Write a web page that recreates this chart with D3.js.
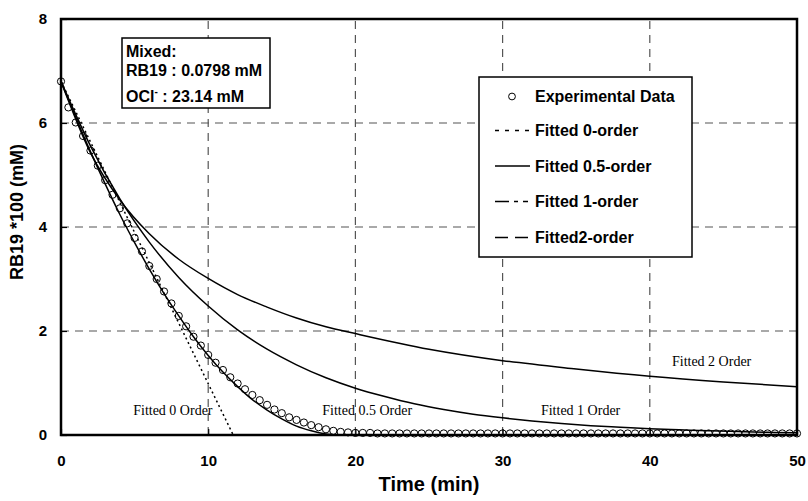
<!DOCTYPE html>
<html>
<head>
<meta charset="utf-8">
<style>
  body { margin: 0; background: #fff; }
  text { font-family: "Liberation Sans", Arial, sans-serif; }
</style>
</head>
<body>
<svg width="808" height="501"></svg>
<script src="https://cdn.jsdelivr.net/npm/d3@7"></script>
<script>

// Experimental data (every 0.5 min)
var expTime = [
  0, 0.5, 1, 1.5, 2, 2.5, 3, 3.5, 4, 4.5,
  5, 5.5, 6, 6.5, 7, 7.5, 8, 8.5, 9, 9.5,
  10, 10.5, 11, 11.5, 12, 12.5, 13, 13.5, 14, 14.5,
  15, 15.5, 16, 16.5, 17, 17.5, 18, 18.5, 19, 19.5,
  20, 20.5, 21, 21.5, 22, 22.5, 23, 23.5, 24, 24.5,
  25, 25.5, 26, 26.5, 27, 27.5, 28, 28.5, 29, 29.5,
  30, 30.5, 31, 31.5, 32, 32.5, 33, 33.5, 34, 34.5,
  35, 35.5, 36, 36.5, 37, 37.5, 38, 38.5, 39, 39.5,
  40, 40.5, 41, 41.5, 42, 42.5, 43, 43.5, 44, 44.5,
  45, 45.5, 46, 46.5, 47, 47.5, 48, 48.5, 49, 49.5,
  50
];
var expConc = [
  6.80, 6.30, 6.01, 5.75, 5.47, 5.18, 4.90, 4.62, 4.36, 4.07,
  3.79, 3.53, 3.25, 3.00, 2.76, 2.53, 2.29, 2.09, 1.89, 1.72,
  1.54, 1.39, 1.25, 1.11, 0.99, 0.88, 0.77, 0.67, 0.58, 0.49,
  0.42, 0.34, 0.29, 0.24, 0.19, 0.15, 0.11, 0.08, 0.06, 0.05,
  0.04, 0.04, 0.04, 0.03, 0.03, 0.03, 0.03, 0.03, 0.03, 0.03,
  0.03, 0.03, 0.03, 0.03, 0.03, 0.03, 0.03, 0.03, 0.03, 0.03,
  0.03, 0.03, 0.03, 0.03, 0.03, 0.03, 0.03, 0.03, 0.03, 0.03,
  0.03, 0.03, 0.03, 0.03, 0.03, 0.03, 0.03, 0.03, 0.03, 0.03,
  0.03, 0.03, 0.03, 0.03, 0.03, 0.03, 0.03, 0.03, 0.03, 0.03,
  0.03, 0.03, 0.03, 0.03, 0.03, 0.03, 0.03, 0.03, 0.03, 0.03,
  0.03
];

// Fitted curves
var fit0Time = [0, 11.7];
var fit0Conc = [6.80, 0];

var fitHalfTime = [0, 1, 2, 3, 4, 5, 6, 7, 8, 9, 10, 11, 12, 13, 14, 15, 16, 17, 18, 19, 25, 35, 50];
var fitHalfConc = [6.80, 6.11, 5.45, 4.83, 4.24, 3.70, 3.19, 2.72, 2.29, 1.89, 1.53, 1.21, 0.93, 0.68, 0.48, 0.31, 0.17, 0.08, 0.02, 0, 0, 0, 0];

var fit1Time = [0, 2, 4, 6, 8, 10, 12, 14, 16, 18, 20, 22, 24, 26, 28, 30, 32, 34, 36, 38, 40, 42, 44, 46, 48, 50];
var fit1Conc = [6.80, 5.56, 4.54, 3.71, 3.03, 2.48, 2.02, 1.65, 1.35, 1.10, 0.90, 0.74, 0.60, 0.49, 0.40, 0.33, 0.27, 0.22, 0.18, 0.15, 0.12, 0.10, 0.08, 0.065, 0.053, 0.044];

var fit2Time = [0, 2, 4, 6, 8, 10, 12, 14, 16, 18, 20, 25, 30, 35, 40, 45, 50];
var fit2Conc = [6.80, 5.43, 4.52, 3.87, 3.38, 3.01, 2.70, 2.46, 2.25, 2.08, 1.95, 1.65, 1.43, 1.27, 1.13, 1.02, 0.93];

var xTicks = [0, 10, 20, 30, 40, 50];
var yTicks = [0, 2, 4, 6, 8];

var legendLabels = ["Experimental Data", "Fitted 0-order", "Fitted 0.5-order", "Fitted 1-order", "Fitted2-order"];
var curveLabels = ["Fitted 0 Order", "Fitted 0.5 Order", "Fitted 1 Order", "Fitted 2 Order"];

var svg = d3.select("svg"),
    plotL = 61, plotR = 797, plotT = 19, plotB = 435;

var x = d3.scaleLinear().domain([0, 50]).range([plotL, plotR]);
var y = d3.scaleLinear().domain([0, 8]).range([plotB, plotT]);

// gridlines
var grid = svg.append("g")
    .attr("stroke", "#555")
    .attr("stroke-width", 1.2)
    .attr("stroke-dasharray", "8,6");
grid.selectAll(".vg")
  .data(xTicks.slice(1, -1))
  .enter().append("line")
    .attr("x1", function(d) { return x(d); })
    .attr("x2", function(d) { return x(d); })
    .attr("y1", plotB)
    .attr("y2", plotT);
grid.selectAll(".hg")
  .data(yTicks.slice(1, -1))
  .enter().append("line")
    .attr("x1", plotL)
    .attr("x2", plotR)
    .attr("y1", function(d) { return y(d); })
    .attr("y2", function(d) { return y(d); });

// axes
var xAxis = svg.append("g")
    .attr("transform", "translate(0," + plotB + ")")
    .call(d3.axisBottom(x).tickValues(xTicks).tickSize(-6).tickPadding(20));
var yAxis = svg.append("g")
    .attr("transform", "translate(" + plotL + ",0)")
    .call(d3.axisLeft(y).tickValues(yTicks).tickSize(-6).tickPadding(14));
[xAxis, yAxis].forEach(function(a) {
  a.attr("font-size", 15).attr("font-family", "'Liberation Sans', Arial, sans-serif");
  a.select(".domain").remove();
  a.selectAll("text")
      .attr("font-weight", "bold")
      .attr("fill", "#000");
  a.selectAll("line").attr("stroke", "#000").attr("stroke-width", 1.2);
});

// fitted curves
var line = d3.line()
    .x(function(d) { return x(d[0]); })
    .y(function(d) { return y(d[1]); })
    .curve(d3.curveMonotoneX);

function pairs(t, c) { return t.map(function(v, i) { return [v, c[i]]; }); }

svg.append("path")
    .datum(pairs(fit0Time, fit0Conc))
    .attr("fill", "none")
    .attr("stroke", "#000")
    .attr("stroke-width", 1.5)
    .attr("stroke-dasharray", "2,3")
    .attr("d", line);

[pairs(fitHalfTime, fitHalfConc), pairs(fit1Time, fit1Conc), pairs(fit2Time, fit2Conc)].forEach(function(p) {
  svg.append("path")
      .datum(p)
      .attr("fill", "none")
      .attr("stroke", "#000")
      .attr("stroke-width", 1.5)
      .attr("d", line);
});

// experimental points
svg.append("g")
  .selectAll("circle")
  .data(pairs(expTime, expConc))
  .enter().append("circle")
    .attr("cx", function(d) { return x(d[0]); })
    .attr("cy", function(d) { return y(d[1]); })
    .attr("r", 3.6)
    .attr("fill", "none")
    .attr("stroke", "#000")
    .attr("stroke-width", 1);

// curve annotations
var annot = [[7.6, 0.38], [20.8, 0.38], [35.3, 0.38], [44.2, 1.33]];
svg.append("g")
  .selectAll("text")
  .data(curveLabels)
  .enter().append("text")
    .attr("x", function(d, i) { return x(annot[i][0]); })
    .attr("y", function(d, i) { return y(annot[i][1]); })
    .attr("text-anchor", "middle")
    .style("font-family", "'Liberation Serif', 'Times New Roman', serif")
    .attr("font-size", 14)
    .text(function(d) { return d; });

// frame
svg.append("rect")
    .attr("x", plotL)
    .attr("y", plotT)
    .attr("width", plotR - plotL)
    .attr("height", plotB - plotT)
    .attr("fill", "none")
    .attr("stroke", "#000")
    .attr("stroke-width", 2.5);

// info box
var info = svg.append("g");
info.append("rect")
    .attr("x", 122).attr("y", 38)
    .attr("width", 148).attr("height", 70)
    .attr("fill", "#fff")
    .attr("stroke", "#000")
    .attr("stroke-width", 1.5);
info.append("text").attr("x", 126).attr("y", 57)
    .attr("font-size", 16).attr("font-weight", "bold").text("Mixed:");
info.append("text").attr("x", 126).attr("y", 76)
    .attr("font-size", 16).attr("font-weight", "bold").text("RB19 : 0.0798 mM");
var ocl = info.append("text").attr("x", 126).attr("y", 102)
    .attr("font-size", 16).attr("font-weight", "bold");
ocl.append("tspan").text("OCl");
ocl.append("tspan").attr("dy", -7).attr("font-size", 10).text("-");
ocl.append("tspan").attr("dy", 7).text(" : 23.14 mM");

// legend
var lg = svg.append("g");
lg.append("rect")
    .attr("x", 479).attr("y", 77)
    .attr("width", 213).attr("height", 180)
    .attr("fill", "#fff")
    .attr("stroke", "#000")
    .attr("stroke-width", 1.5);
var rowY = [96.5, 130.5, 166, 201.5, 237.5];
var dashes = [null, "4,6", null, "14,5,4,5,5", "13,7"];
legendLabels.forEach(function(lab, i) {
  if (i === 0) {
    lg.append("circle")
        .attr("cx", 512).attr("cy", rowY[i]).attr("r", 3.4)
        .attr("fill", "none").attr("stroke", "#000").attr("stroke-width", 1);
  } else {
    lg.append("line")
        .attr("x1", 495).attr("x2", 530)
        .attr("y1", rowY[i]).attr("y2", rowY[i])
        .attr("stroke", "#000")
        .attr("stroke-width", 1.5)
        .attr("stroke-dasharray", dashes[i]);
  }
  lg.append("text")
      .attr("x", 535).attr("y", rowY[i]).attr("dy", "0.36em")
      .attr("font-size", 16).attr("font-weight", "bold")
      .text(lab);
});

// axis titles
svg.append("text")
    .attr("x", (plotL + plotR) / 2)
    .attr("y", 491)
    .attr("text-anchor", "middle")
    .attr("font-size", 20)
    .attr("font-weight", "bold")
    .text("Time (min)");
svg.append("text")
    .attr("transform", "translate(23,212) rotate(-90)")
    .attr("text-anchor", "middle")
    .attr("font-size", 18)
    .attr("font-weight", "bold")
    .text("RB19 *100 (mM)");

</script>
</body>
</html>
